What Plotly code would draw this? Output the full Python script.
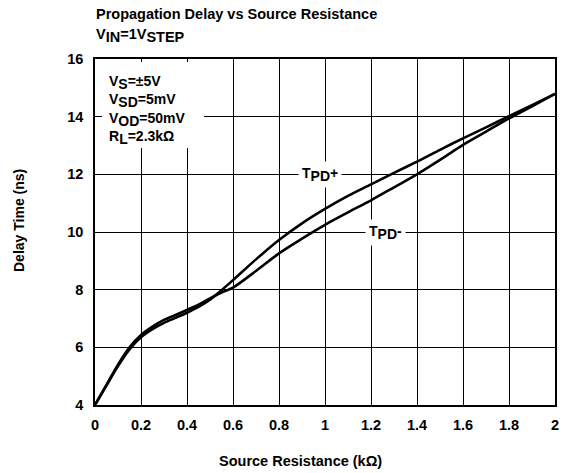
import plotly.graph_objects as go

resistance = [0, 0.05, 0.1, 0.15, 0.2, 0.25, 0.3, 0.35, 0.4, 0.45, 0.5, 0.55, 0.6, 0.7, 0.8,
              0.9, 1.0, 1.1, 1.2, 1.3, 1.4, 1.5, 1.6, 1.7, 1.8, 1.9, 2.0]
tpd_plus = [4.0, 4.68, 5.35, 5.93, 6.35, 6.63, 6.85, 7.02, 7.2, 7.4, 7.65, 7.98, 8.33, 9.05, 9.72,
            10.3, 10.8, 11.25, 11.65, 12.05, 12.44, 12.85, 13.25, 13.63, 14.02, 14.4, 14.79]
tpd_minus = [4.0, 4.7, 5.4, 6.0, 6.43, 6.72, 6.95, 7.12, 7.3, 7.48, 7.7, 7.9, 8.07, 8.65, 9.26,
             9.77, 10.25, 10.68, 11.1, 11.55, 12.0, 12.5, 13.02, 13.48, 13.94, 14.36, 14.79]

x_ticks = [0, 0.2, 0.4, 0.6, 0.8, 1, 1.2, 1.4, 1.6, 1.8, 2]
x_tick_labels = ["0", "0.2", "0.4", "0.6", "0.8", "1", "1.2", "1.4", "1.6", "1.8", "2"]
y_ticks = [4, 6, 8, 10, 12, 14, 16]
y_tick_labels = ["4", "6", "8", "10", "12", "14", "16"]

FONT = "Liberation Sans, Arial, sans-serif"
FS = 14


def sub(s, size=FS):
    return "<sub><span style='font-size:%gpx'>%s</span></sub>" % (size, s)


cond_lines = ["V" + sub("S") + "=±5V", "V" + sub("SD") + "=5mV",
              "V" + sub("OD") + "=50mV", "R" + sub("L") + "=2.3kΩ"]
title_lines = ["Propagation Delay vs Source Resistance", "V" + sub("IN", 14.5) + "=1V" + sub("STEP", 14.5)]

fig = go.Figure()
for ys in (tpd_plus, tpd_minus):
    fig.add_trace(go.Scatter(x=resistance, y=ys, mode="lines",
                             line=dict(color="black", width=2.6, shape="spline", smoothing=0.8),
                             showlegend=False, hoverinfo="skip"))

# plot area in px: x 95..555, y 59..405
def px_x(p):
    return (p - 95) / 460.0


def px_y(p):
    return (405 - p) / 346.0


fig.add_shape(type="rect", xref="paper", yref="paper",
              x0=px_x(102), x1=px_x(204), y0=px_y(148), y1=px_y(62),
              fillcolor="white", line=dict(width=0), layer="above")

annots = []
centers = [82, 100.5, 119, 137]
for txt, cy in zip(cond_lines, centers):
    annots.append(dict(text="<b>" + txt + "</b>", xref="paper", yref="paper",
                       x=px_x(107), y=px_y(cy), xanchor="left", yanchor="middle",
                       showarrow=False, font=dict(family=FONT, size=FS, color="black")))

annots.append(dict(text="<b>T" + sub("PD") + "+</b>", x=0.978, y=12, xref="x", yref="y",
                   showarrow=False, bgcolor="white", borderpad=3, yshift=0,
                   font=dict(family=FONT, size=FS, color="black")))
annots.append(dict(text="<b>T" + sub("PD") + "-</b>", x=1.265, y=10, xref="x", yref="y",
                   showarrow=False, bgcolor="white", borderpad=3, yshift=0,
                   font=dict(family=FONT, size=FS, color="black")))

annots.append(dict(text="<b>" + title_lines[0] + "</b>", xref="paper", yref="paper",
                   x=px_x(94), y=px_y(14), xanchor="left", yanchor="middle", showarrow=False,
                   font=dict(family=FONT, size=14.5, color="black")))
annots.append(dict(text="<b>" + title_lines[1] + "</b>", xref="paper", yref="paper",
                   x=px_x(94), y=px_y(35), xanchor="left", yanchor="middle", showarrow=False,
                   font=dict(family=FONT, size=14.5, color="black")))

annots.append(dict(text="<b>Source Resistance (kΩ)</b>", xref="paper", yref="paper",
                   x=px_x(300), y=px_y(461), xanchor="center", yanchor="middle", showarrow=False,
                   font=dict(family=FONT, size=14.5, color="black")))
annots.append(dict(text="<b>Delay Time (ns)</b>", xref="paper", yref="paper",
                   x=px_x(19), y=px_y(221), xanchor="center", yanchor="middle", showarrow=False,
                   textangle=-90, font=dict(family=FONT, size=14, color="black")))

fig.update_layout(
    width=565, height=473,
    margin=dict(l=95, r=10, t=59, b=68),
    paper_bgcolor="white", plot_bgcolor="white",
    font=dict(family=FONT, color="black"),
    annotations=annots,
    xaxis=dict(range=[0, 2], tickvals=x_ticks, ticktext=["<b>%s</b>" % t for t in x_tick_labels],
               showgrid=True, gridcolor="black", gridwidth=1.3, automargin=False,
               showline=True, linecolor="black", linewidth=1.5, mirror=True,
               zeroline=False, ticks="", tickfont=dict(family=FONT, size=14.5, color="black"),
               ticklabelstandoff=6),
    yaxis=dict(range=[4, 16], tickvals=y_ticks, ticktext=["<b>%s</b>" % t for t in y_tick_labels],
               showgrid=True, gridcolor="black", gridwidth=1.3, automargin=False,
               showline=True, linecolor="black", linewidth=1.5, mirror=True,
               zeroline=False, ticks="", tickfont=dict(family=FONT, size=14.5, color="black"),
               ticklabelstandoff=7),
)

fig.write_html("out.html", config={"displayModeBar": False},
               post_script="document.body.style.margin='0';")
